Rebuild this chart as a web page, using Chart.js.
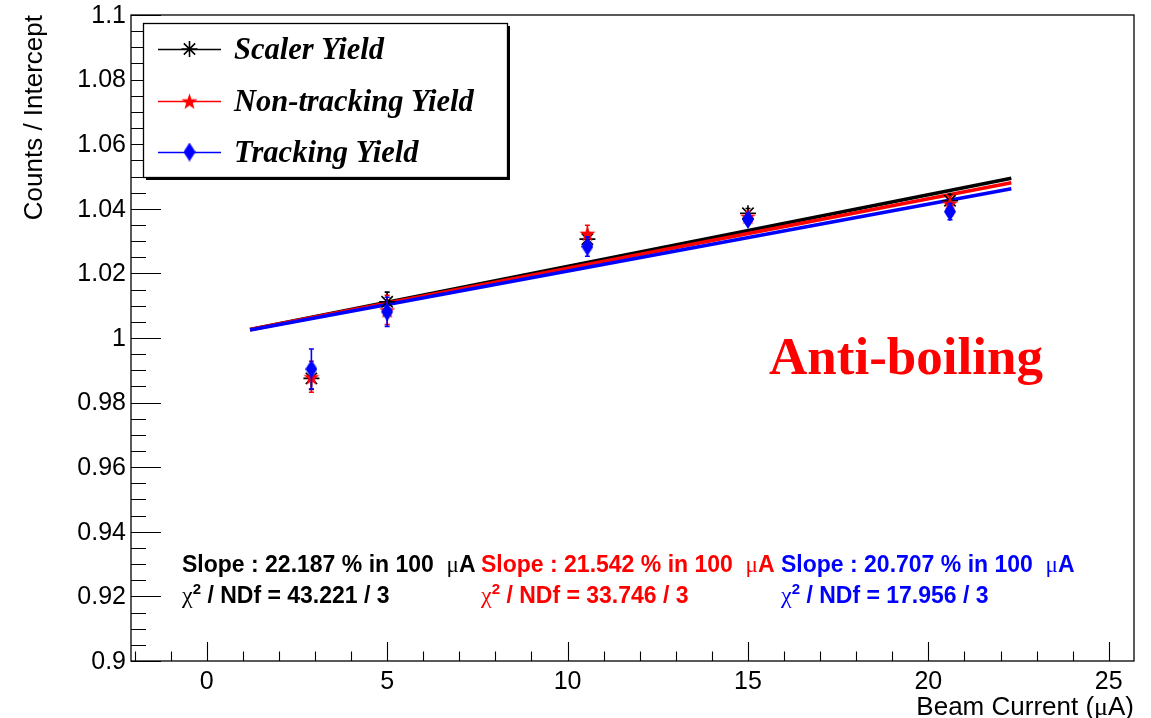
<!DOCTYPE html>
<html><head><meta charset="utf-8">
<script src="https://cdn.jsdelivr.net/npm/chart.js@4.4.0/dist/chart.umd.min.js"></script>
<style>html,body{margin:0;padding:0;background:#fff;overflow:hidden}#wrap{width:1151px;height:718px;position:relative}</style>
</head><body><div id="wrap"><canvas id="c" width="1151" height="718"></canvas></div>
<script>
// ---- data ----
const beamCurrent = [2.9, 5.0, 10.55, 15.0, 20.6];
const scalerYield = [0.9875, 1.0112, 1.0306, 1.0386, 1.0425];
const scalerErr = [0.0034, 0.0030, 0.0020, 0.0015, 0.0020];
const nonTrackingYield = [0.9880, 1.0087, 1.0324, 1.0377, 1.0417];
const nonTrackingErr = [0.0048, 0.0045, 0.0025, 0.0015, 0.0020];
const trackingYield = [0.9904, 1.0081, 1.0283, 1.0367, 1.0391];
const trackingErr = [0.0062, 0.0045, 0.0030, 0.0015, 0.0025];
const fitRange = [1.2, 22.3];
const scalerFit = [1.00266, 1.04948];
const nonTrackingFit = [1.00259, 1.04804];
const trackingFit = [1.00248, 1.04618];
const seriesNames = ['Scaler Yield', 'Non-tracking Yield', 'Tracking Yield'];
const slopes = ['22.187', '21.542', '20.707'];
const chi2 = ['43.221', '33.746', '17.956'];
const ndf = ['3', '3', '3'];
const xTickValues = [0, 5, 10, 15, 20, 25];
const xTickLabels = ['0', '5', '10', '15', '20', '25'];
const yTickValues = [0.9, 0.92, 0.94, 0.96, 0.98, 1.0, 1.02, 1.04, 1.06, 1.08, 1.1];
const yTickLabels = ['0.9', '0.92', '0.94', '0.96', '0.98', '1', '1.02', '1.04', '1.06', '1.08', '1.1'];
const yTitle = 'Counts / Intercept';
const tagText = 'Anti-boiling';

const BLACK = '#000000', RED = '#ff0000', BLUE = '#0000ff';
const SANS = '"Liberation Sans", Arial, Helvetica, sans-serif';
const SERIF = '"Liberation Serif", "Times New Roman", serif';

function starCanvas(color, r) {
  const s = Math.ceil(2 * r + 2), c = document.createElement('canvas');
  c.width = s; c.height = s;
  const g = c.getContext('2d'); g.fillStyle = color; g.beginPath();
  for (let i = 0; i < 10; i++) {
    const a = -Math.PI / 2 + i * Math.PI / 5, rr = i % 2 ? r * 0.4 : r;
    g.lineTo(s / 2 + rr * Math.cos(a), s / 2 + 1 + rr * Math.sin(a));
  }
  g.closePath(); g.fill(); return c;
}
function diamondCanvas(color, w, h) {
  const c = document.createElement('canvas'); c.width = w; c.height = h;
  const g = c.getContext('2d'); g.fillStyle = color; g.beginPath();
  g.moveTo(w / 2, 0); g.lineTo(w, h / 2); g.lineTo(w / 2, h); g.lineTo(0, h / 2); g.closePath(); g.fill();
  return c;
}
const redStar = starCanvas(RED, 8.5);
const blueDiamond = diamondCanvas(BLUE, 12, 19);

const pts = (ys) => beamCurrent.map((x, i) => ({ x, y: ys[i] }));
const fitPts = (ys) => fitRange.map((x, i) => ({ x, y: ys[i] }));

const datasets = [
  { label: 'fit0', type: 'line', data: fitPts(scalerFit), borderColor: BLACK, borderWidth: 3.6, pointRadius: 0, showLine: true, order: 6, fill: false },
  { label: 'fit1', type: 'line', data: fitPts(nonTrackingFit), borderColor: RED, borderWidth: 3.6, pointRadius: 0, showLine: true, order: 5, fill: false },
  { label: 'fit2', type: 'line', data: fitPts(trackingFit), borderColor: BLUE, borderWidth: 3.6, pointRadius: 0, showLine: true, order: 4, fill: false },
  { label: seriesNames[0], data: pts(scalerYield), errors: scalerErr, pointStyle: 'star', pointRadius: 8, borderColor: BLACK, backgroundColor: BLACK, pointBorderWidth: 1.6, showLine: false, order: 3 },
  { label: seriesNames[1], data: pts(nonTrackingYield), errors: nonTrackingErr, pointStyle: redStar, pointRadius: 8, borderColor: RED, backgroundColor: RED, showLine: false, order: 2 },
  { label: seriesNames[2], data: pts(trackingYield), errors: trackingErr, pointStyle: blueDiamond, pointRadius: 9, borderColor: BLUE, backgroundColor: BLUE, showLine: false, order: 1 }
];

function drawRich(ctx, x, y, parts, color) {
  ctx.fillStyle = color; ctx.textAlign = 'left'; ctx.textBaseline = 'alphabetic';
  for (const p of parts) {
    ctx.font = p[1];
    ctx.fillText(p[0], x, y + (p[2] || 0));
    x += ctx.measureText(p[0]).width;
  }
  return x;
}
function richWidth(ctx, parts) {
  let w = 0;
  for (const p of parts) { ctx.font = p[1]; w += ctx.measureText(p[0]).width; }
  return w;
}

const errorBars = {
  id: 'errorBars',
  afterDatasetDraw(chart, args) {
    const ds = chart.data.datasets[args.index];
    if (!ds.errors) return;
    const ctx = chart.ctx, xs = chart.scales.x, ys = chart.scales.y;
    ctx.save(); ctx.strokeStyle = ds.borderColor; ctx.lineWidth = 1.6;
    ds.data.forEach((p, i) => {
      const px = xs.getPixelForValue(p.x);
      const y1 = ys.getPixelForValue(p.y - ds.errors[i]);
      const y2 = ys.getPixelForValue(p.y + ds.errors[i]);
      ctx.beginPath();
      ctx.moveTo(px, y1); ctx.lineTo(px, y2);
      ctx.moveTo(px - 2.5, y1); ctx.lineTo(px + 2.5, y1);
      ctx.moveTo(px - 2.5, y2); ctx.lineTo(px + 2.5, y2);
      ctx.stroke();
    });
    ctx.restore();
  }
};

const decor = {
  id: 'decor',
  afterDraw(chart) {
    const ctx = chart.ctx, a = chart.chartArea, xs = chart.scales.x, ys = chart.scales.y;
    ctx.save();
    // frame
    ctx.strokeStyle = '#000'; ctx.lineWidth = 1.3;
    ctx.strokeRect(a.left, a.top, a.right - a.left, a.bottom - a.top);
    // x ticks (inside)
    ctx.beginPath();
    for (let v = Math.ceil(xs.min); v <= xs.max; v += 1) {
      const px = Math.round(xs.getPixelForValue(v)) + 0.5;
      const major = xTickValues.includes(v);
      ctx.moveTo(px, a.bottom); ctx.lineTo(px, a.bottom - (major ? 19 : 9.5));
    }
    // y ticks (inside)
    for (let k = 0; k <= 40; k++) {
      const v = ys.min + k * 0.005;
      const py = Math.round(ys.getPixelForValue(v)) + 0.5;
      const major = k % 4 === 0;
      ctx.moveTo(a.left, py); ctx.lineTo(a.left + (major ? 30 : 15), py);
    }
    ctx.lineWidth = 1.1; ctx.stroke();
    // tick labels
    ctx.fillStyle = '#000'; ctx.font = '25px ' + SANS;
    ctx.textAlign = 'right'; ctx.textBaseline = 'middle';
    yTickValues.forEach((v, i) => ctx.fillText(yTickLabels[i], a.left - 5, ys.getPixelForValue(v) + 1));
    ctx.textAlign = 'center';
    xTickValues.forEach((v, i) => ctx.fillText(xTickLabels[i], xs.getPixelForValue(v), a.bottom + 21));
    // x axis title (right aligned to frame)
    const xParts = [['Beam Current (', '26px ' + SANS], ['\u03bc', '26px ' + SERIF], ['A)', '26px ' + SANS]];
    drawRich(ctx, a.right - richWidth(ctx, xParts), 715, xParts, '#000');
    // y axis title (top aligned)
    ctx.save();
    ctx.translate(42, a.top); ctx.rotate(-Math.PI / 2);
    ctx.textAlign = 'right'; ctx.textBaseline = 'alphabetic'; ctx.font = '26px ' + SANS; ctx.fillStyle = '#000';
    ctx.fillText(yTitle, 0, 0);
    ctx.restore();

    // legend
    const L = { x: 143, y: 23, w: 364, h: 154 };
    ctx.fillStyle = '#000'; ctx.fillRect(L.x + 3, L.y + 3, L.w, L.h);
    ctx.fillStyle = '#fff'; ctx.fillRect(L.x, L.y, L.w, L.h);
    ctx.strokeStyle = '#000'; ctx.lineWidth = 1.3; ctx.strokeRect(L.x + 0.5, L.y + 0.5, L.w, L.h);
    const rows = [49, 101, 152];
    const markers = chart.data.datasets.slice(3);
    markers.forEach((ds, i) => {
      const y = rows[i];
      ctx.strokeStyle = ds.borderColor; ctx.lineWidth = 1.3;
      ctx.beginPath(); ctx.moveTo(158, y + 0.5); ctx.lineTo(221, y + 0.5); ctx.stroke();
      ctx.fillStyle = ds.borderColor;
      ctx.lineWidth = ds.pointBorderWidth || 1;
      Chart.helpers.drawPoint(ctx, { pointStyle: ds.pointStyle, radius: ds.pointRadius, borderWidth: ds.pointBorderWidth || 1, rotation: 0 }, 189.5, y);
      ctx.fillStyle = '#000'; ctx.font = 'italic bold 30.5px ' + SERIF;
      ctx.textAlign = 'left'; ctx.textBaseline = 'alphabetic';
      ctx.fillText(ds.label, 234, y + 10);
    });

    // tag
    ctx.fillStyle = RED; ctx.font = 'bold 53px ' + SERIF; ctx.textAlign = 'left';
    ctx.fillText(tagText, 769, 374);

    // fit stats
    const cols = [182, 481, 781], colors = [BLACK, RED, BLUE];
    const B = 'bold 23px ' + SANS;
    for (let i = 0; i < 3; i++) {
      drawRich(ctx, cols[i], 572, [['Slope : ' + slopes[i] + ' % in 100  ', B], ['\u03bc', '23px ' + SERIF], ['A', B]], colors[i]);
      drawRich(ctx, cols[i], 603, [['\u03c7', '24px ' + SERIF], ['2', 'bold 15px ' + SANS, -9], [' / NDf = ' + chi2[i] + ' / ' + ndf[i], B]], colors[i]);
    }
    ctx.restore();
  }
};

new Chart(document.getElementById('c'), {
  type: 'scatter',
  data: { datasets },
  options: {
    responsive: false, animation: false, devicePixelRatio: 1,
    layout: { padding: { top: 15, right: 17, left: 0, bottom: 0 } },
    plugins: { legend: { display: false }, tooltip: { enabled: false } },
    scales: {
      x: {
        type: 'linear', min: -2.1, max: 25.7,
        grid: { display: false, drawTicks: false }, border: { display: false },
        ticks: { display: false },
        afterFit(s) { s.height = 57; },
        afterBuildTicks(s) { s.ticks = xTickValues.map(v => ({ value: v })); }
      },
      y: {
        type: 'linear', min: 0.9, max: 1.1,
        grid: { display: false, drawTicks: false }, border: { display: false },
        ticks: { display: false },
        afterFit(s) { s.width = 131; },
        afterBuildTicks(s) { s.ticks = yTickValues.map(v => ({ value: v })); }
      }
    }
  },
  plugins: [errorBars, decor]
});
</script></body></html>
